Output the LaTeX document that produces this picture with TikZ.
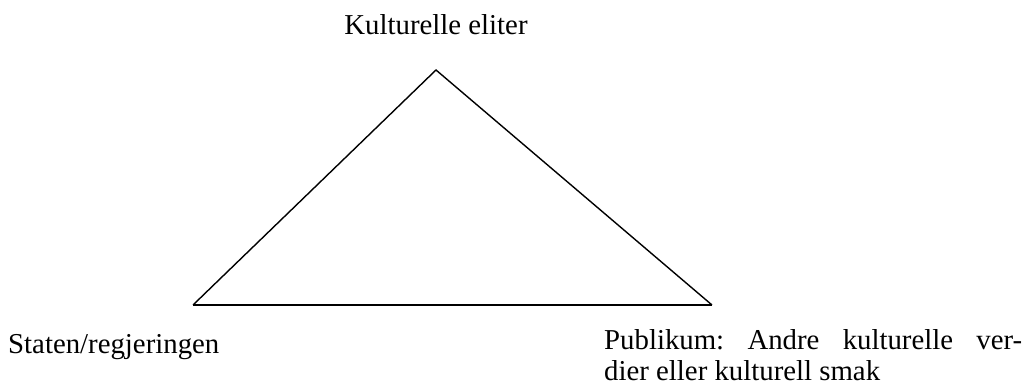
\documentclass[tikz,border=0pt]{standalone}
\usepackage{fontspec}
\setmainfont{Liberation Serif}
\begin{document}
\begin{tikzpicture}[x=1pt,y=-1pt,
  lbl/.style={inner sep=0pt,font=\fontsize{28.8}{28}\selectfont},
  side/.style={line width=1.4pt,line join=miter},
  base/.style={line width=2.6pt}]
\useasboundingbox (0,0) rectangle (1031,390);
\coordinate (top) at (436,70);
\coordinate (bl) at (193,305);
\coordinate (br) at (712,305);
\draw[side] (bl) -- (top) -- (br);
\draw[base] (bl) -- (br);
\node[lbl,anchor=base] (k) at (436,35) {Kulturelle eliter};
\node[lbl,anchor=base west] (s) at (8,353) {Staten/regjeringen};
\node[lbl,anchor=base west] (p1) at (604,349) {\hbox to 418pt{Publikum:\hfil\ Andre\hfil\ kulturelle\hfil\ ver-}};
\node[lbl,anchor=base west] (p2) at (604,380) {dier eller kulturell smak};
\end{tikzpicture}
\end{document}
